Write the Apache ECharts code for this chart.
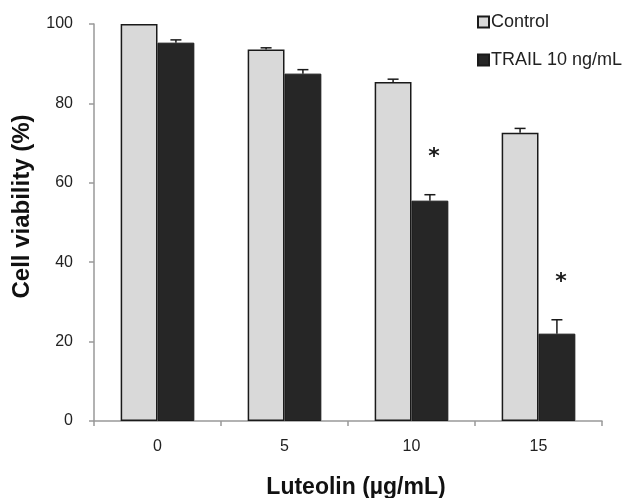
<!DOCTYPE html>
<html>
<head>
<meta charset="utf-8">
<style>
  html, body { margin: 0; padding: 0; background: #fff; }
  #chart { width: 627px; height: 498px; }
</style>
<script src="https://cdn.jsdelivr.net/npm/echarts@6/dist/echarts.min.js"></script>
</head>
<body>
<div id="chart"></div>
<script>
// dados
const categories = ['0', '5', '10', '15'];
const controlValues = [100, 93.6, 85.4, 72.6];
const controlErrors = [0, 0.4, 0.7, 1.1];
const trailValues = [95.3, 87.5, 55.5, 22.0];
const trailErrors = [0.7, 1.0, 1.5, 3.5];
const trailMarks = ['', '', '*', '*'];
const yTicks = { min: 0, max: 100, interval: 20 };

const BAR_PCT = 0.29;
const FONT = '"Liberation Sans", Arial, sans-serif';

// barra de erro (só para cima) + asterisco
function errorSeries(name, values, errors, marks, side) {
    return {
        name: name + '_err',
        type: 'custom',
        z: 5,
        silent: true,
        data: values.map((v, i) => [i, v, errors[i]]),
        encode: { x: 0, y: 1 },
        renderItem: (params, api) => {
            const idx = api.value(0);
            const val = api.value(1);
            const err = api.value(2);
            const mark = marks ? marks[idx] : '';
            const catW = api.size([1, 0])[0];
            const dx = side * catW * BAR_PCT / 2;
            const base = api.coord([idx, val]);
            const top = api.coord([idx, val + err]);
            const x = base[0] + dx;
            const children = [];
            if (err > 0) {
                children.push({
                    type: 'line',
                    shape: { x1: x, y1: base[1], x2: x, y2: top[1] },
                    style: { stroke: '#1a1a1a', lineWidth: 1.5 }
                });
                children.push({
                    type: 'line',
                    shape: { x1: x - 5.5, y1: top[1], x2: x + 5.5, y2: top[1] },
                    style: { stroke: '#1a1a1a', lineWidth: 1.5 }
                });
            }
            if (mark) {
                children.push({
                    type: 'text',
                    style: {
                        x: x + 4, y: top[1] - 37,
                        text: mark,
                        fill: '#1a1a1a',
                        font: 'bold 22px "DejaVu Sans", sans-serif',
                        align: 'center',
                        verticalAlign: 'middle'
                    }
                });
            }
            return { type: 'group', children: children };
        }
    };
}

const chart = echarts.init(document.getElementById('chart'));

const option = {
    backgroundColor: '#fff',
    animation: false,
    textStyle: { fontFamily: FONT },
    grid: { left: 94, right: 25, top: 24, bottom: 77, outerBoundsMode: 'none', containLabel: false },
    legend: {
        orient: 'vertical',
        left: 472,
        top: 8,
        itemWidth: 11,
        itemHeight: 11,
        itemGap: 20,
        icon: 'rect',
        data: ['Control', 'TRAIL 10 ng/mL'],
        textStyle: { fontSize: 18, color: '#222', fontFamily: FONT, padding: [0, 0, 0, -3] }
    },
    xAxis: {
        type: 'category',
        data: categories,
        name: 'Luteolin (µg/mL)',
        nameLocation: 'middle',
        nameGap: 55,
        nameTextStyle: { fontSize: 23, fontWeight: 'bold', color: '#111', fontFamily: FONT, padding: [0, 0, 0, 16] },
        axisLine: { lineStyle: { color: '#999', width: 1.5 } },
        axisTick: { show: true, length: 5, lineStyle: { color: '#999', width: 1.5 } },
        axisLabel: { fontSize: 16, color: '#222', margin: 18, fontFamily: FONT }
    },
    yAxis: {
        type: 'value',
        min: yTicks.min,
        max: yTicks.max,
        interval: yTicks.interval,
        name: 'Cell viability (%)',
        nameLocation: 'middle',
        nameGap: 60,
        nameTextStyle: { fontSize: 24, fontWeight: 'bold', color: '#111', fontFamily: FONT, padding: [0, 0, 0, 32] },
        axisLine: { show: true, lineStyle: { color: '#999', width: 1.5 } },
        axisTick: { show: true, length: 5, lineStyle: { color: '#999', width: 1.5 } },
        splitLine: { show: false },
        axisLabel: { fontSize: 16, color: '#222', margin: 21, fontFamily: FONT }
    },
    series: [
        {
            name: 'Control',
            type: 'bar',
            barWidth: (BAR_PCT * 100) + '%',
            barGap: '0%',
            data: controlValues,
            itemStyle: { color: '#d9d9d9', borderColor: '#1a1a1a', borderWidth: 1.5 }
        },
        {
            name: 'TRAIL 10 ng/mL',
            type: 'bar',
            barWidth: (BAR_PCT * 100) + '%',
            barGap: '0%',
            data: trailValues,
            itemStyle: { color: '#262626', borderColor: '#1a1a1a', borderWidth: 1 }
        },
        errorSeries('Control', controlValues, controlErrors, null, -1),
        errorSeries('TRAIL', trailValues, trailErrors, trailMarks, 1)
    ]
};

chart.setOption(option);
</script>
</body>
</html>
